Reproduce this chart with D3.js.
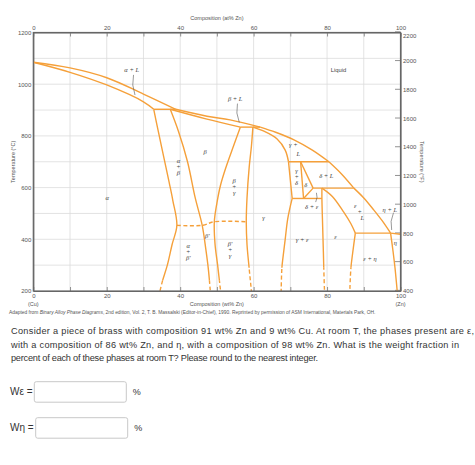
<!DOCTYPE html>
<html><head><meta charset="utf-8">
<script src="https://cdn.jsdelivr.net/npm/d3@7"></script>
<style>body{margin:0;background:#fff}svg{display:block}</style>
</head><body><svg id="c" width="475" height="465"></svg>
<script>
// ---------- data ----------
const wtTicks = [0, 20, 40, 60, 80, 100];
const atTicks = [0, 20, 40, 60, 80, 100];
const tempCTicks = [200, 400, 600, 800, 1000, 1200];
const tempFTicks = [400, 600, 800, 1000, 1200, 1400, 1600, 1800, 2000, 2200];

// phase boundaries: [wt% Zn, °C]
const liquidusCu    = [[0,1085],[10,1063],[20,1025],[30,962],[38.8,903]];
const solidusAlpha  = [[0,1085],[10,1046],[20,997],[30,932],[32.8,903]];
const peritectic903 = [[32.8,903],[38.8,903]];
const liquidusBeta  = [[38.8,903],[47.3,876],[53.6,862],[61.8,834]];
const solidusBeta   = [[37.3,903],[47,866],[56.4,834]];
const peritectic834 = [[56.4,834],[61.8,834]];
const liquidusGamma = [[61.8,834],[66,814],[71,785],[76,745],[80.5,700]];
const solidusGamma  = [[59.8,834],[62.5,820],[66.4,788],[68.6,745],[69.5,700]];
const peritectic700 = [[69.5,700],[80.5,700]];
const gammaDelta    = [[69.5,700],[70.5,558]];
const deltaLeft     = [[72.8,700],[73.6,558]];
const deltaRight    = [[72.8,700],[76.2,598]];
const deltaBottom   = [[76.2,598],[73.6,558]];
const liquidusDelta = [[80.5,700],[84,652],[87.3,598]];
const peritectic598 = [[76.2,598],[87.3,598]];
const eutectoid558  = [[70.5,558],[78.6,558]];
const gammaRight    = [[70.5,558],[69.3,480],[68.6,400],[68,330],[67.7,290],[67.5,200]];
const epsLeft       = [[78.6,598],[78.6,558],[78.8,450],[79,350],[79.1,290],[79.3,200]];
const solidusEps    = [[78.6,598],[81.5,565],[84.5,506],[86.5,460],[87.7,424]];
const liquidusEps   = [[87.3,598],[90,560],[92.7,514],[95,472],[97.3,424]];
const peritectic424 = [[87.7,424],[97.3,424]];
const epsRight      = [[87.7,424],[87,350],[86.5,290],[86.2,200]];
const etaLine       = [[97.3,424],[98,350],[98.5,290],[99.1,200]];
const liquidusZn    = [[97.3,424],[100,419.5]];
const alphaBound    = [[32.8,903],[34,820],[35.5,720],[37,620],[38,550],[39.1,454],[37.8,380],[36.5,300],[35.2,240],[34.5,200]];
const betaLeft      = [[37.3,903],[39.5,819],[42,700],[44.1,560],[46,454],[47,360],[47.7,281],[48.2,200]];
const betaRight     = [[56.4,834],[54.5,760],[52.5,680],[51,610],[50,540],[49.3,468],[49.5,380],[50.2,300],[51,200]];
const gammaLeft     = [[59.8,834],[59.4,760],[58.8,680],[58.2,560],[58,468],[58.2,380],[58.7,300],[59.4,200]];
const betaPrime     = [[39.1,454],[46,454],[49.3,468],[58,468]];

const boundaries = [
  {d: liquidusCu}, {d: solidusAlpha}, {d: peritectic903}, {d: liquidusBeta}, {d: solidusBeta},
  {d: peritectic834}, {d: liquidusGamma}, {d: solidusGamma}, {d: peritectic700}, {d: gammaDelta},
  {d: deltaLeft}, {d: deltaRight}, {d: deltaBottom}, {d: liquidusDelta}, {d: peritectic598},
  {d: eutectoid558}, {d: gammaRight, dashBelow: 290}, {d: epsLeft, dashBelow: 290},
  {d: solidusEps}, {d: liquidusEps}, {d: peritectic424}, {d: epsRight, dashBelow: 290},
  {d: etaLine}, {d: liquidusZn}, {d: alphaBound, dashBelow: 240}, {d: betaLeft, dashBelow: 240},
  {d: betaRight, dashBelow: 240}, {d: gammaLeft, dashBelow: 290}, {d: betaPrime, dashAll: true}
];

const phaseLabels = [
  {t: "α + L", w: 26.8, c: 1055},
  {t: "β + L", w: 55, c: 945},
  {t: "α", w: 20.1, c: 560},
  {t: "β", w: 46.8, c: 738},
  {t: "β′", w: 47.4, c: 413},
  {t: "γ", w: 62.7, c: 484},
  {t: "γ +", w: 70.8, c: 765},
  {t: "L", w: 72.2, c: 732},
  {t: "δ", w: 74.2, c: 613},
  {t: "δ + L", w: 79.8, c: 645},
  {t: "δ + ε", w: 75.8, c: 526},
  {t: "ε", w: 82.3, c: 409},
  {t: "γ + ε", w: 73.2, c: 397},
  {t: "ε", w: 87.7, c: 529},
  {t: "+", w: 88.9, c: 508},
  {t: "L", w: 89.6, c: 485},
  {t: "η + L", w: 97.1, c: 516},
  {t: "η", w: 98.6, c: 388},
  {t: "ε + η", w: 91.7, c: 324}
];
const stackedLabels = [
  {lines: ["α","+","β"], w: 39.5, c: 680},
  {lines: ["β","+","γ"], w: 54.7, c: 604},
  {lines: ["α","+","β′"], w: 42.2, c: 353},
  {lines: ["β′","+","γ"], w: 53.6, c: 359},
  {lines: ["γ","+","δ"], w: 71.7, c: 641}
];
const leaders = [
  {from: [27.3,1036], to: [27.7,958], bend: -3},
  {from: [55.6,925], to: [56.1,852], bend: -3},
  {from: [76.9,544], to: [77.1,580], bend: 2},
  {from: [98.1,503], to: [97.6,436], bend: -3}
];

const question = [
  "Consider a piece of brass with composition 91 wt% Zn and 9 wt% Cu. At room T, the phases present are ε,",
  "with a composition of 86 wt% Zn, and η, with a composition of 98 wt% Zn. What is the weight fraction in",
  "percent of each of these phases at room T? Please round to the nearest integer."
];
const questionWidths = [463, 448, 307];
const answerLabels = ["Wε =", "Wη ="];

// ---------- drawing ----------
const svg = d3.select("#c");
svg.append("rect").attr("width",475).attr("height",465).attr("fill","#fff");

const x = d3.scaleLinear().domain([0,100]).range([33.3,400.5]);
const y = d3.scaleLinear().domain([200,1200]).range([291,32.5]);
const yF = d3.scaleLinear().domain([392,2192]).range([291,32.5]);
const sans = "Liberation Sans, Arial, sans-serif";
const intFmt = d3.format("d");

// grid
const g = svg.append("g");
g.selectAll(".vg").data(d3.range(10,100,10)).join("line")
  .attr("x1",d=>x(d)).attr("x2",d=>x(d)).attr("y1",y(200)).attr("y2",y(1200))
  .attr("stroke","#dcdcdc").attr("stroke-width",0.8);
g.selectAll(".hg").data(d3.range(300,1200,100)).join("line")
  .attr("x1",x(0)).attr("x2",x(100)).attr("y1",d=>y(d)).attr("y2",d=>y(d))
  .attr("stroke","#dcdcdc").attr("stroke-width",0.8);

// axes
function styleAxis(sel){
  sel.selectAll("path.domain").attr("stroke","#666").attr("stroke-width",1.2);
  sel.selectAll(".tick line").attr("stroke","#777").attr("stroke-width",0.8);
  sel.selectAll("text").attr("fill","#555").attr("font-family",sans).attr("font-size",6);
}
const fmt = arr => d => arr.includes(d) ? intFmt(d) : "";
svg.append("g").attr("transform",`translate(0,${y(1200)})`)
  .call(d3.axisTop(x).tickValues(d3.range(0,101,10)).tickSizeInner(-4).tickSizeOuter(0).tickPadding(3).tickFormat(fmt(atTicks)))
  .call(styleAxis);
svg.append("g").attr("transform",`translate(0,${y(200)})`)
  .call(d3.axisBottom(x).tickValues(d3.range(0,101,10)).tickSizeInner(-4).tickSizeOuter(0).tickPadding(2.5).tickFormat(fmt(wtTicks)))
  .call(styleAxis);
svg.append("g").attr("transform",`translate(${x(0)},0)`)
  .call(d3.axisLeft(y).tickValues(tempCTicks).tickSize(0).tickPadding(2).tickFormat(intFmt))
  .call(styleAxis);
const ra = svg.append("g").attr("transform",`translate(${x(100)},0)`)
  .call(d3.axisRight(yF).tickValues(tempFTicks).tickSizeInner(-5.5).tickSizeOuter(0).tickPadding(2).tickFormat(intFmt))
  .call(styleAxis);
ra.selectAll(".tick text").attr("x",2.5).attr("dy",d=> d===2200 ? "1.0em" : "0.45em");

// axis titles
const title = (tx,ty,txt,rot) => svg.append("text")
  .attr("transform",`translate(${tx},${ty})${rot?` rotate(${rot})`:""}`).attr("text-anchor","middle")
  .attr("font-family",sans).attr("font-size",5.5).attr("fill","#555").text(txt);
title((x(0)+x(100))/2, 20, "Composition (at% Zn)");
title((x(0)+x(100))/2, 306, "Composition (wt% Zn)");
title(x(0), 306, "(Cu)");
title(x(100), 306, "(Zn)");
title(14.5, (y(200)+y(1200))/2, "Temperature (°C)", -90);
title(420, (y(200)+y(1200))/2, "Temperature (°F)", 90);
const cap = svg.append("text").attr("x",9).attr("y",314).attr("font-family",sans).attr("font-size",4.9).attr("fill","#555");
cap.append("tspan").text("Adapted from ");
cap.append("tspan").attr("font-style","italic").text("Binary Alloy Phase Diagrams");
cap.append("tspan").text(", 2nd edition, Vol. 2, T. B. Massalski (Editor-in-Chief), 1990. Reprinted by permission of ASM International, Materials Park, OH.");

// phase boundaries
const defs = svg.append("defs");
const lineLin = d3.line().x(d=>x(d[0])).y(d=>y(d[1])).curve(d3.curveCatmullRom.alpha(0.5));
const orange = "#f5a03a";
const pl = svg.append("g").attr("fill","none").attr("stroke",orange).attr("stroke-width",1.4).attr("stroke-linejoin","round");
boundaries.forEach((b,i)=>{
  const path = lineLin(b.d);
  if (b.dashAll) {
    pl.append("path").attr("d",path).attr("stroke-dasharray","4,2.5");
  } else if (b.dashBelow) {
    const yc = y(b.dashBelow);
    defs.append("clipPath").attr("id","cs"+i).append("rect").attr("x",0).attr("y",0).attr("width",475).attr("height",yc);
    defs.append("clipPath").attr("id","cd"+i).append("rect").attr("x",0).attr("y",yc).attr("width",475).attr("height",465-yc);
    pl.append("path").attr("d",path).attr("clip-path",`url(#cs${i})`);
    pl.append("path").attr("d",path).attr("clip-path",`url(#cd${i})`).attr("stroke-dasharray","4,2.5");
  } else {
    pl.append("path").attr("d",path);
  }
});

// frame on top
svg.append("rect").attr("x",x(0)).attr("y",y(1200)).attr("width",x(100)-x(0)).attr("height",y(200)-y(1200))
  .attr("fill","none").attr("stroke","#666").attr("stroke-width",1.2);

// labels
const serif = "Liberation Serif, DejaVu Serif, serif";
svg.append("g").selectAll("text").data(phaseLabels).join("text")
  .attr("x",d=>x(d.w)).attr("y",d=>y(d.c)).attr("dy","0.35em").attr("text-anchor","middle")
  .attr("font-family",serif).attr("font-style","italic").attr("font-size",6.5).attr("fill","#444").text(d=>d.t);
svg.append("text").attr("x",x(83.1)).attr("y",y(1055)).attr("dy","0.35em").attr("text-anchor","middle")
  .attr("font-family",sans).attr("font-size",5.8).attr("fill","#444").text("Liquid");
stackedLabels.forEach(s=>{
  const t = svg.append("text").attr("font-family",serif).attr("font-style","italic").attr("font-size",6.5)
    .attr("fill","#444").attr("text-anchor","middle");
  s.lines.forEach((l,k)=>{
    t.append("tspan").attr("x",x(s.w)).attr("y",y(s.c)+(k-1)*6).attr("dy","0.35em").text(l);
  });
});
svg.append("g").selectAll("path").data(leaders).join("path")
  .attr("d",d=>{
    const x1=x(d.from[0]), y1=y(d.from[1]), x2=x(d.to[0]), y2=y(d.to[1]);
    return `M${x1},${y1} Q${(x1+x2)/2+d.bend},${(y1+y2)/2} ${x2},${y2}`;
  })
  .attr("fill","none").attr("stroke","#555").attr("stroke-width",0.6);

// question text
svg.append("g").selectAll("text").data(question).join("text")
  .attr("x",11).attr("y",(d,i)=>334+i*13.5)
  .attr("textLength",(d,i)=>questionWidths[i]).attr("lengthAdjust","spacing")
  .attr("font-family",sans).attr("font-size",9.2).attr("fill","#333").text(d=>d);

// answer boxes
const boxes = [{y: 381.7, bx: 34.3}, {y: 417.7, bx: 35.7}];
answerLabels.forEach((lab,i)=>{
  const b = boxes[i];
  svg.append("text").attr("x",10).attr("y",b.y+13.5).attr("font-family",sans).attr("font-size",10)
    .attr("fill","#333").text(lab);
  svg.append("rect").attr("x",b.bx).attr("y",b.y).attr("width",92).attr("height",20.5).attr("rx",2)
    .attr("fill","#fff").attr("stroke","#c8c8c8").attr("stroke-width",1);
  svg.append("text").attr("x",b.bx+98.5).attr("y",b.y+13.5).attr("font-family",sans).attr("font-size",9)
    .attr("fill","#333").text("%");
});
</script></body></html>
